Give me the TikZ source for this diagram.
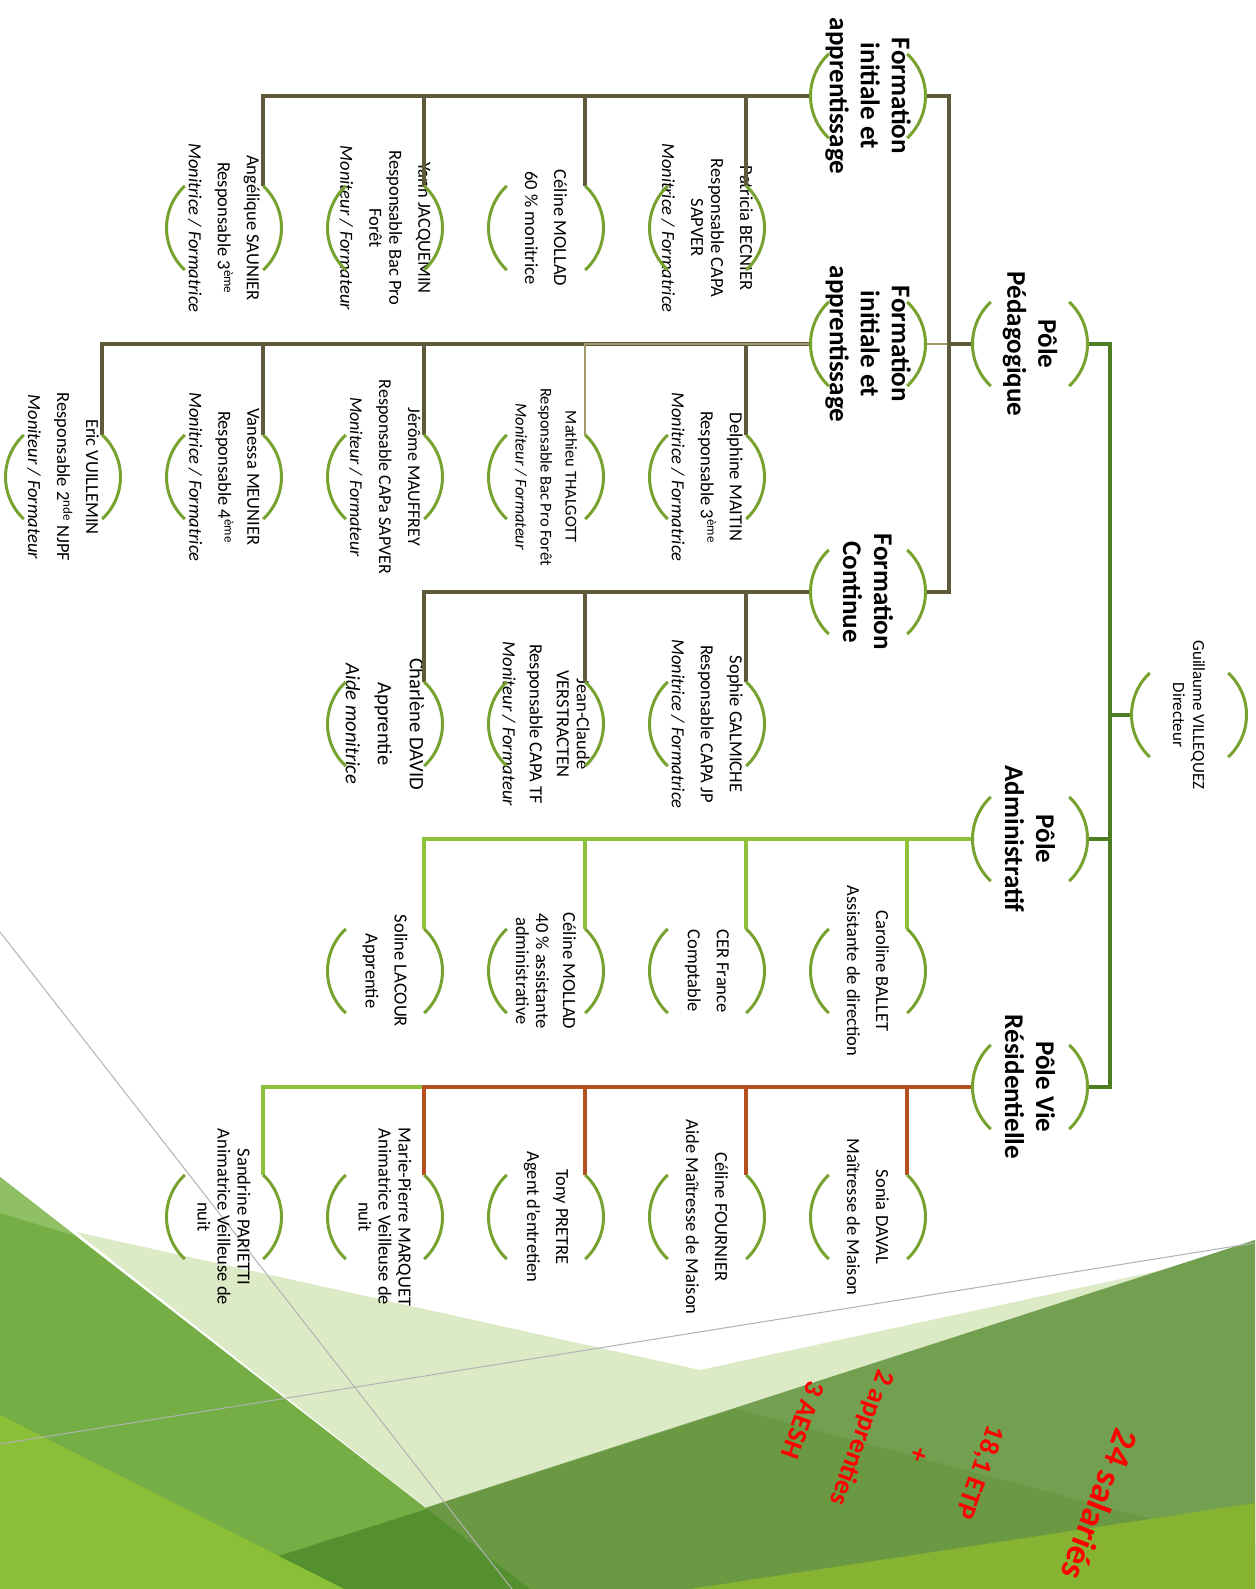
\documentclass[tikz,border=0pt]{standalone}
\usepackage{fontspec}
\setmainfont{Carlito}
\definecolor{trunkgreen}{HTML}{4C7D23}
\definecolor{ringgreen} {HTML}{78A22F}
\definecolor{admgreen}  {HTML}{8DC13A}
\definecolor{vierust}   {HTML}{B5501E}
\definecolor{pedolive}  {HTML}{605A3C}
\definecolor{pedkhaki}  {HTML}{A39A6B}
\definecolor{bgpale}    {HTML}{DDEAC6}
\definecolor{bgleaf}    {HTML}{74AE45}
\definecolor{bgleaflt}  {HTML}{8FC066}
\definecolor{bgmoss}    {HTML}{72A050}
\definecolor{bgmossdk}  {HTML}{6A9843}
\definecolor{bgdeep}    {HTML}{55902F}
\definecolor{bglime}    {HTML}{86B332}
\definecolor{bglimelt}  {HTML}{8CBF38}

\begin{document}
\begin{tikzpicture}[x=1pt, y=1pt,
    ring/.style={circle, minimum size=115pt, inner sep=0pt, outer sep=0pt},
    arcline/.style={ringgreen, line width=3pt},
    who/.style={rotate=-90, align=center, inner sep=0pt,
                font=\fontsize{18.5}{20}\selectfont},
    head/.style={rotate=-90, align=center, inner sep=0pt,
                 font=\bfseries\fontsize{27}{31}\selectfont},
    link/.style={line width=4pt},
    tally/.style={rotate=-110, text=red, inner sep=0pt,
                  font=\bfseries\fontsize{27.5}{32}\selectfont},
  ]
  \useasboundingbox (0,0) rectangle (1255,1589);
  \fill[white] (0,0) rectangle (1255,1589);

  % facets at the foot of the page
  \fill[bgpale]   (76,357) -- (700,219) -- (1255,339) -- (1255,0) -- (530,0) -- cycle;
  \fill[bgmoss]   (1255,349) -- (174,0) -- (1255,0) -- cycle;
  \fill[bgmossdk] (736,180) -- (1255,42) -- (1255,0) -- (174,0) -- cycle;
  \fill[bglime]   (690,0) -- (1255,86) -- (1255,0) -- cycle;
  \fill[bgleaf]   (0,412) -- (530,0) -- (0,0) -- cycle;
  \fill[bgleaflt] (0,412) -- (76,353) -- (0,376) -- cycle;
  \fill[bgdeep]   (427,80) -- (174,0) -- (530,0) -- cycle;
  \fill[bglimelt] (0,174) -- (344,0) -- (0,0) -- cycle;
  \draw[gray!60, line width=1pt] (0,657) -- (512,0);
  \draw[gray!60, line width=1pt] (0,145) -- (1255,346);

  % director and poles
  \node[ring] (dir) at (1189,874) {};
  \node[ring] (ped) at (1030,1245) {};
  \node[ring] (adm) at (1030,750) {};
  \node[ring] (vie) at (1030,502) {};
  \node[ring] (fi1) at (868,1493) {};
  \node[ring] (fi2) at (868,1245) {};
  \node[ring] (fc)  at (868,997) {};

  \node[who, font=\fontsize{17}{20}\selectfont] (dir-l) at (dir) {Guillaume VILLEQUEZ\\Directeur};
  \node[head] (ped-l) at (ped) {Pôle\\Pédagogique};
  \node[head] (adm-l) at (adm) {Pôle\\Administratif};
  \node[head] (vie-l) at (vie) {Pôle Vie\\Résidentielle};
  \node[head] (fi1-l) at (fi1) {Formation\\initiale et\\apprentissage};
  \node[head] (fi2-l) at (fi2) {Formation\\initiale et\\apprentissage};
  \node[head] (fc-l)  at (fc)  {Formation\\Continue};

  % formation initiale (1)
  \node[ring] (pat)  at (707,1361) {};
  \node[ring] (celm) at (546,1361) {};
  \node[ring] (yann) at (385,1361) {};
  \node[ring] (ange) at (224,1361) {};
  \node[who] (pat-l) at (pat) {Patricia BECNIER\\[9pt]Responsable CAPA\\SAPVER\\[9pt]\textit{Monitrice / Formatrice}};
  \node[who] (celm-l) at (celm) {Céline MOLLAD\\[9pt]60 \% monitrice};
  \node[who] (yann-l) at (yann) {Yann JACQUEMIN\\[9pt]Responsable Bac Pro\\Forêt\\[9pt]\textit{Moniteur / Formateur}};
  \node[who] (ange-l) at (ange) {Angélique SAUNIER\\[9pt]Responsable 3\textsuperscript{ème}\\[9pt]\textit{Monitrice / Formatrice}};

  % formation initiale (2)
  \node[ring] (delph) at (707,1112) {};
  \node[ring] (math)  at (546,1112) {};
  \node[ring] (jer)   at (385,1112) {};
  \node[ring] (van)   at (224,1112) {};
  \node[ring] (eric)  at (63,1112) {};
  \node[who] (delph-l) at (delph) {Delphine MAITIN\\[9pt]Responsable 3\textsuperscript{ème}\\[9pt]\textit{Monitrice / Formatrice}};
  \node[who, font=\fontsize{16.5}{19}\selectfont] (math-l) at (math) {Mathieu THALGOTT\\[6pt]Responsable Bac Pro Forêt\\[6pt]\textit{Moniteur / Formateur}};
  \node[who, font=\fontsize{18}{20}\selectfont] (jer-l) at (jer) {Jérôme MAUFFREY\\[9pt]Responsable CAPa SAPVER\\[9pt]\textit{Moniteur / Formateur}};
  \node[who] (van-l) at (van) {Vanessa MEUNIER\\[9pt]Responsable 4\textsuperscript{ème}\\[9pt]\textit{Monitrice / Formatrice}};
  \node[who] (eric-l) at (eric) {Eric VUILLEMIN\\[9pt]Responsable 2\textsuperscript{nde} NJPF\\[9pt]\textit{Moniteur / Formateur}};

  % formation continue
  \node[ring] (soph)  at (707,865) {};
  \node[ring] (jc)    at (546,865) {};
  \node[ring] (charl) at (385,865) {};
  \node[who] (soph-l) at (soph) {Sophie GALMICHE\\[9pt]Responsable CAPA JP\\[9pt]\textit{Monitrice / Formatrice}};
  \node[who] (jc-l) at (jc) {Jean-Claude\\VERSTRACTEN\\[7pt]Responsable CAPA TF\\[7pt]\textit{Moniteur / Formateur}};
  \node[who, font=\fontsize{20.5}{23}\selectfont] (charl-l) at (charl) {Charlène DAVID\\[9pt]Apprentie\\[9pt]\textit{Aide monitrice}};

  % administratif
  \node[ring] (car)    at (868,618) {};
  \node[ring] (cer)    at (707,618) {};
  \node[ring] (celadm) at (546,618) {};
  \node[ring] (sol)    at (385,618) {};
  \node[who] (car-l) at (car) {Caroline BALLET\\[9pt]Assistante de direction};
  \node[who] (cer-l) at (cer) {CER France\\[9pt]Comptable};
  \node[who] (celadm-l) at (celadm) {Céline MOLLAD\\[7pt]40 \% assistante\\administrative};
  \node[who] (sol-l) at (sol) {Soline LACOUR\\[9pt]Apprentie};

  % vie residentielle
  \node[ring] (son)  at (868,372) {};
  \node[ring] (celf) at (707,372) {};
  \node[ring] (tony) at (546,372) {};
  \node[ring] (mp)   at (385,372) {};
  \node[ring] (sand) at (224,372) {};
  \node[who] (son-l) at (son) {Sonia DAVAL\\[9pt]Maîtresse de Maison};
  \node[who] (celf-l) at (celf) {Céline FOURNIER\\[9pt]Aide Maîtresse de Maison};
  \node[who] (tony-l) at (tony) {Tony PRETRE\\[9pt]Agent d'entretien};
  \node[who] (mp-l) at (mp) {Marie-Pierre MARQUET\\Animatrice Veilleuse de\\nuit};
  \node[who] (sand-l) at (sand) {Sandrine PARIETTI\\Animatrice Veilleuse de\\nuit};

  % connectors
  \coordinate (dirbus) at (1110,874);
  \coordinate (pedbus) at (949,1245);
  \draw[link, trunkgreen] (dir.180) -- (dirbus) |- (ped.0);
  \draw[link, trunkgreen] (dirbus) |- (adm.0);
  \draw[link, trunkgreen] (dirbus) |- (vie.0);

  \draw[pedkhaki, line width=2pt] (ped.180) -- (fi2.0);
  \draw[link, pedolive] (ped.180) -- (pedbus) |- (fi1.0);
  \draw[link, pedolive] (pedbus) |- (fc.0);

  \draw[link, pedolive] (fi1.180) -| (pat.47);
  \draw[link, pedolive] (fi1.180) -| (celm.47);
  \draw[link, pedolive] (fi1.180) -| (yann.47);
  \draw[link, pedolive] (fi1.180) -| (ange.47);

  \draw[link, pedolive] (fi2.180) -| (delph.47);
  \draw[link, pedolive] (fi2.180) -| (jer.47);
  \draw[link, pedolive] (fi2.180) -| (van.47);
  \draw[link, pedolive] (fi2.180) -| (eric.47);
  \draw[pedkhaki, line width=2.5pt] (fi2.180) -| (math.47);

  \draw[link, pedolive] (fc.180) -| (soph.47);
  \draw[link, pedolive] (fc.180) -| (jc.47);
  \draw[link, pedolive] (fc.180) -| (charl.47);

  \draw[link, admgreen] (adm.180) -| (car.47);
  \draw[link, admgreen] (adm.180) -| (cer.47);
  \draw[link, admgreen] (adm.180) -| (celadm.47);
  \draw[link, admgreen] (adm.180) -| (sol.47);

  \draw[link, admgreen] (vie.180) -| (sand.47);
  \draw[link, vierust] (vie.180) -| (son.47);
  \draw[link, vierust] (vie.180) -| (celf.47);
  \draw[link, vierust] (vie.180) -| (tony.47);
  \draw[link, vierust] (vie.180) -| (mp.47);

  % the green brackets round every box
  \foreach \n in {dir,ped,adm,vie,fi1,fi2,fc,pat,celm,yann,ange,delph,math,jer,van,eric,
                  soph,jc,charl,car,cer,celadm,sol,son,celf,tony,mp,sand}{
    \draw[arcline] (\n.133) arc[start angle=133, end angle=227, radius=57.5];
    \draw[arcline] (\n.313) arc[start angle=-47, end angle=47, radius=57.5];
  }

  % head count
  \node[tally, rotate=-1, font=\bfseries\fontsize{36}{40}\selectfont] (t24) at (1100,84) {24 salariés};
  \node[tally] (t18) at (979,117) {18,1 ETP};
  \node[tally] (tplus) at (918,134) {+};
  \node[tally] (tapp) at (861,151) {2 apprenties};
  \node[tally] (taesh) at (803,169) {3 AESH};
\end{tikzpicture}
\end{document}
